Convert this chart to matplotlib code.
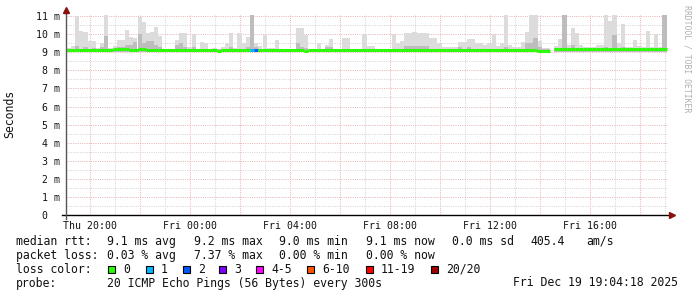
import numpy as np
import matplotlib.pyplot as plt
from matplotlib.patches import Rectangle
from matplotlib.ticker import MultipleLocator, FuncFormatter

# time axis: hours relative to Thu 20:00, one sample every 10 minutes from Thu 19:04
start_hour = -56 / 60
step_hour = 10 / 60

# smoke (max of the 20 pings), in ms
smoke_max = [
    9.25, 9.32, 11.0, 10.2, 10.1, 9.6, 9.6, 9.25, 9.5, 11.1,
    9.25, 9.35, 9.68, 9.68, 10.23, 9.86, 9.77, 10.93, 10.69, 10.08,
    10.14, 10.41, 9.9, 9.2, 9.2, 9.2, 9.68, 10.04, 10.04, 9.3,
    10.0, 9.2, 9.55, 9.5, 9.2, 9.21, 9.2, 9.27, 9.53, 10.08,
    9.21, 10.08, 9.49, 9.86, 11.1, 9.5, 9.34, 9.95, 9.21, 9.21,
    9.68, 9.2, 9.2, 9.2, 9.2, 10.32, 10.32, 9.95, 9.2, 9.2,
    9.49, 9.2, 9.4, 9.71, 9.2, 9.2, 9.77, 9.77, 9.2, 9.2,
    9.2, 10.01, 9.34, 9.34, 9.2, 9.2, 9.2, 9.2, 9.99, 9.49,
    9.6, 10.04, 10.04, 10.1, 10.04, 10.04, 10.04, 9.81, 9.81, 9.49,
    9.3, 9.3, 9.3, 9.3, 9.58, 9.58, 9.71, 9.71, 9.49, 9.49,
    9.4, 9.49, 10.01, 9.34, 9.49, 11.1, 9.4, 9.27, 9.27, 9.58,
    10.14, 11.1, 11.1, 9.6, 9.25, 9.25, np.nan, 9.34, 9.71, 11.1,
    9.4, 10.32, 10.08, 9.4, 9.3, 9.3, 9.3, 9.4, 9.4, 11.1,
    10.74, 11.1, 9.49, 10.56, 9.3, 9.3, 9.68, 9.34, 9.3, 10.19,
    9.27, 10.01, 9.3, 11.1,
]

# denser part of the smoke (darker gray), in ms
smoke_mid = [
    9.18, 9.2, 9.35, 9.2, 9.3, 9.2, 9.25, 9.18, 9.3, 9.9,
    9.18, 9.2, 9.3, 9.3, 9.4, 9.4, 9.55, 10.0, 9.5, 9.6,
    9.6, 9.4, 9.3, 9.18, 9.18, 9.18, 9.4, 9.5, 9.3, 9.18,
    9.3, 9.18, 9.18, 9.18, 9.18, 9.18, 9.18, 9.18, 9.18, 9.3,
    9.18, 9.18, 9.18, 9.3, 11.1, 9.3, 9.18, 9.18, 9.18, 9.18,
    9.18, 9.18, 9.18, 9.18, 9.18, 9.49, 9.3, 9.25, 9.18, 9.18,
    9.18, 9.18, 9.3, 9.3, 9.18, 9.18, 9.18, 9.18, 9.18, 9.18,
    9.18, 9.18, 9.18, 9.18, 9.18, 9.18, 9.18, 9.18, 9.18, 9.18,
    9.18, 9.35, 9.35, 9.35, 9.35, 9.35, 9.35, 9.18, 9.18, 9.18,
    9.18, 9.18, 9.18, 9.18, 9.3, 9.18, 9.3, 9.18, 9.18, 9.18,
    9.18, 9.18, 9.18, 9.18, 9.18, 9.3, 9.18, 9.18, 9.18, 9.18,
    9.5, 9.5, 9.8, 9.3, 9.18, 9.18, np.nan, 9.18, 9.18, 11.1,
    9.18, 9.4, 9.18, 9.18, 9.18, 9.18, 9.18, 9.18, 9.18, 9.3,
    9.18, 9.95, 9.18, 9.3, 9.18, 9.18, 9.18, 9.18, 9.18, 9.18,
    9.18, 9.18, 9.18, 11.1,
]
smoke_min = 9.02

# median rtt, in ms
median_rtt = [
    9.12, 9.12, 9.12, 9.12, 9.12, 9.12, 9.12, 9.12, 9.12, 9.12,
    9.12, 9.2, 9.2, 9.2, 9.2, 9.15, 9.12, 9.17, 9.17, 9.12,
    9.12, 9.12, 9.12, 9.12, 9.12, 9.12, 9.12, 9.12, 9.12, 9.12,
    9.12, 9.12, 9.12, 9.12, 9.12, 9.12, 9.07, 9.12, 9.12, 9.12,
    9.12, 9.12, 9.12, 9.12, 9.12, 9.12, 9.12, 9.12, 9.12, 9.12,
    9.12, 9.12, 9.12, 9.12, 9.12, 9.12, 9.12, 9.08, 9.12, 9.12,
    9.12, 9.12, 9.12, 9.12, 9.12, 9.12, 9.12, 9.12, 9.12, 9.12,
    9.12, 9.12, 9.12, 9.12, 9.12, 9.12, 9.12, 9.12, 9.12, 9.12,
    9.12, 9.12, 9.12, 9.12, 9.12, 9.12, 9.12, 9.12, 9.12, 9.12,
    9.12, 9.12, 9.12, 9.12, 9.12, 9.12, 9.12, 9.12, 9.12, 9.12,
    9.12, 9.12, 9.12, 9.12, 9.12, 9.12, 9.12, 9.12, 9.12, 9.12,
    9.12, 9.12, 9.12, 9.07, 9.07, 9.07, np.nan, 9.17, 9.17, 9.17,
    9.17, 9.17, 9.17, 9.17, 9.17, 9.17, 9.17, 9.17, 9.17, 9.17,
    9.2, 9.2, 9.2, 9.2, 9.2, 9.2, 9.17, 9.17, 9.17, 9.17,
    9.17, 9.17, 9.17, 9.17,
]

# lost pings per sample (index into loss buckets)
loss_bucket = [0] * 144
loss_bucket[44] = 1
loss_bucket[45] = 2

loss_labels = ['0', '1', '2', '3', '4-5', '6-10', '11-19', '20/20']
loss_colors = ['#26ff00', '#00b8ff', '#0059ff', '#7e00ff',
               '#ff00ff', '#ff5500', '#ff0000', '#a10000']

time_labels = {0: 'Thu 20:00', 4: 'Fri 00:00', 8: 'Fri 04:00',
               12: 'Fri 08:00', 16: 'Fri 12:00', 20: 'Fri 16:00'}

W, H = 697, 297
MONO = 'DejaVu Sans Mono'

smoke_max = np.array(smoke_max)
smoke_mid = np.array(smoke_mid)
median_rtt = np.array(median_rtt)
t_left = start_hour + step_hour * np.arange(len(smoke_max))

fig = plt.figure(figsize=(W / 100, H / 100), dpi=100)
fig.patch.set_facecolor('white')
ax = fig.add_axes([66 / W, 1 - 215 / H, (668 - 66) / W, (215 - 15) / H])
ax.set_xlim((66 - 90) / 25, (668 - 90) / 25)
ax.set_ylim(0, 11.06)

# smoke
ax.bar(t_left, smoke_max - smoke_min, bottom=smoke_min, width=step_hour,
       align='edge', color='#dcdcdc', linewidth=0, zorder=2)
ax.bar(t_left, smoke_mid - smoke_min, bottom=smoke_min, width=step_hour,
       align='edge', color='#bdbdbd', linewidth=0, zorder=2)

# median line colored by loss
ax.hlines(median_rtt, t_left, t_left + step_hour,
          colors=[loss_colors[b] for b in loss_bucket], linewidth=2.2, zorder=3)

# grid
ax.xaxis.set_major_locator(MultipleLocator(2))
ax.xaxis.set_minor_locator(MultipleLocator(1))
ax.yaxis.set_major_locator(MultipleLocator(1))
ax.yaxis.set_minor_locator(MultipleLocator(0.5))
ax.xaxis.set_major_formatter(FuncFormatter(lambda v, p: time_labels.get(int(round(v)), '')))
ax.yaxis.set_major_formatter(FuncFormatter(lambda v, p: '0  ' if v == 0 else f'{int(round(v))} m'))
ax.set_axisbelow(True)
ax.grid(which='minor', color='#d2d2d2', linestyle=(0, (1, 1.3)), linewidth=0.7)
ax.grid(which='major', color='#e9b0b0', linestyle=(0, (1, 1.3)), linewidth=0.7)
ax.tick_params(which='both', length=0)
ax.tick_params(axis='x', pad=4.5, labelsize=7.1, labelcolor='#111111')
ax.tick_params(axis='y', pad=4.5, labelsize=7.1, labelcolor='#111111')
for lab in ax.get_xticklabels() + ax.get_yticklabels():
    lab.set_family(MONO)
for s in ax.spines.values():
    s.set_visible(False)

# axes with arrows
ax.plot([-0.007, 1.004], [0, 0], transform=ax.transAxes, clip_on=False,
        color='black', linewidth=1, zorder=5)
ax.plot([0, 0], [-0.02, 1.015], transform=ax.transAxes, clip_on=False,
        color='#555555', linewidth=1, zorder=5)
ax.plot([1.006], [0], marker='>', transform=ax.transAxes, clip_on=False,
        color='#8b1010', markersize=4, zorder=6)
ax.plot([0], [1.025], marker='^', transform=ax.transAxes, clip_on=False,
        color='#8b1010', markersize=4, zorder=6)

fig.text(10 / W, 1 - 114 / H, 'Seconds', rotation=90, family=MONO,
         size=8.3, ha='center', va='center', color='#111111')
fig.text(687 / W, 1 - 59 / H, 'RRDTOOL / TOBI OETIKER', rotation=270,
         family=MONO, size=5.9, ha='center', va='center', color='#b0b0b0')


def put(x, y, s):
    fig.text(x / W, 1 - y / H, s, family=MONO, size=8.3, ha='left',
             va='center', color='#111111')


put(16, 241.5, 'median rtt:')
for x, s in [(107, '9.1 ms avg'), (194, '9.2 ms max'), (279, '9.0 ms min'),
             (366, '9.1 ms now'), (452, '0.0 ms sd'), (530, '405.4'), (586, 'am/s')]:
    put(x, 241.5, s)
put(16, 255.7, 'packet loss:')
for x, s in [(107, '0.03 % avg'), (194, '7.37 % max'), (279, '0.00 % min'),
             (366, '0.00 % now')]:
    put(x, 255.7, s)
put(16, 269.3, 'loss color:')
box_x = [108, 146, 183, 219, 256, 307, 366, 431]
for bx, lab, col in zip(box_x, loss_labels, loss_colors):
    fig.patches.append(Rectangle((bx / W, 1 - 273 / H), 7 / W, 7 / H,
                                 transform=fig.transFigure, facecolor=col,
                                 edgecolor='black', linewidth=0.8))
    put(bx + 15, 269.3, lab)
put(16, 283, 'probe:')
put(107, 283, '20 ICMP Echo Pings (56 Bytes) every 300s')
put(513, 283, 'Fri Dec 19 19:04:18 2025')

fig.savefig('out.png', dpi=100, facecolor='white')
